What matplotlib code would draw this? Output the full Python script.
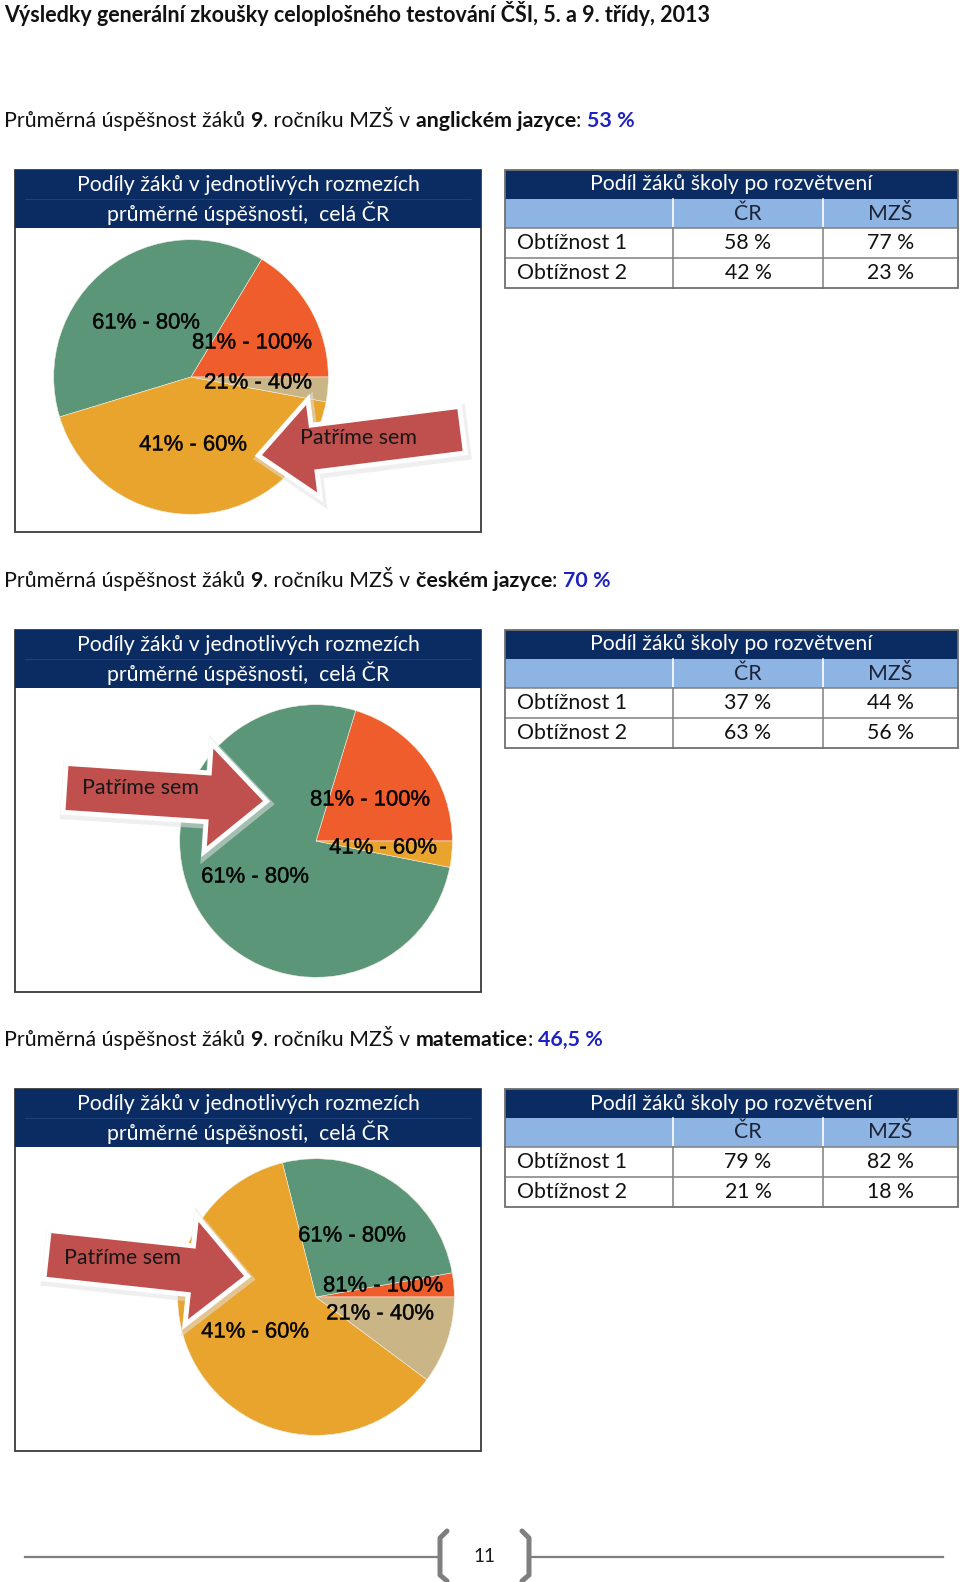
import numpy as np
import matplotlib
matplotlib.use('Agg')
import matplotlib.pyplot as plt
from matplotlib.patches import Rectangle, Polygon
import matplotlib.patheffects as pe

# ---------------- data ----------------
title = "Výsledky generální zkoušky celoplošného testování ČŠI, 5. a 9. třídy, 2013"
heading_prefix = "Průměrná úspěšnost žáků"
heading_grade = "9"
heading_middle = ". ročníku MZŠ v"
subjects = ["anglickém jazyce", "českém jazyce", "matematice"]
school_scores = ["53 %", "70 %", "46,5 %"]

pie_header = ["Podíly žáků v jednotlivých rozmezích", "průměrné úspěšnosti,  celá ČR"]
arrow_text = "Patříme sem"

# pie slices, counter-clockwise from 3 o'clock
en_bands = ["81% - 100%", "61% - 80%", "41% - 60%", "21% - 40%"]
en_shares = [16.4, 38.3, 42.4, 2.9]
cz_bands = ["81% - 100%", "61% - 80%", "41% - 60%"]
cz_shares = [20.3, 76.6, 3.1]
ma_bands = ["81% - 100%", "61% - 80%", "41% - 60%", "21% - 40%"]
ma_shares = [2.8, 26.1, 60.9, 10.2]

table_title = "Podíl žáků školy po rozvětvení"
table_columns = ["ČR", "MZŠ"]
table_rows = ["Obtížnost 1", "Obtížnost 2"]
en_cr = ["58 %", "42 %"]
en_mzs = ["77 %", "23 %"]
cz_cr = ["37 %", "63 %"]
cz_mzs = ["44 %", "56 %"]
ma_cr = ["79 %", "21 %"]
ma_mzs = ["82 %", "18 %"]
page_number = "11"

# ---------------- styles ----------------
W, H = 960, 1582
NAVY = '#0b2c62'
LIGHTBLUE = '#8db4e2'
BAND_COLORS = {"81% - 100%": '#f05d2c', "61% - 80%": '#5b9679',
               "41% - 60%": '#e8a42d', "21% - 40%": '#c9b586'}
ARROW_RED = '#c0504d'
SCORE_BLUE = '#1f22c2'
FONT = 'Lato'
PIE_FONT = 'Liberation Sans'

fig = plt.figure(figsize=(W / 100, H / 100), dpi=100)
renderer = fig.canvas.get_renderer()

bg = fig.add_axes([0, 0, 1, 1], zorder=0)
bg.set_xlim(0, W)
bg.set_ylim(H, 0)
bg.axis('off')

top = fig.add_axes([0, 0, 1, 1], zorder=5)
top.set_xlim(0, W)
top.set_ylim(H, 0)
top.axis('off')
top.patch.set_alpha(0)


def text_width(s, fs, family, weight='normal'):
    t = bg.text(0, 0, s, fontsize=fs, family=family, fontweight=weight)
    w = t.get_window_extent(renderer).width
    t.remove()
    return w


def fit_fs(s, target, family, weight='normal'):
    return 20 * target / text_width(s, 20, family, weight)


def rich(ax, x, y, pieces, fs, family):
    sp = text_width("a a", fs, family) - text_width("aa", fs, family)
    cur = x
    arts = []
    for s, wt, col, gap in pieces:
        t = ax.text(cur, y, s, fontsize=fs, fontweight=wt, color=col, family=family,
                    ha='left', va='center')
        cur += t.get_window_extent(renderer).width
        if gap:
            cur += sp
        arts.append(t)
    return cur - x, arts


# title
fs_title = fit_fs(title, 708, FONT, 'bold')
bg.text(4, 14, title, fontsize=fs_title, family=FONT, fontweight='bold', color='#111111',
        ha='left', va='center')


def heading_pieces(i):
    return [(heading_prefix, 'normal', '#111111', True),
            (heading_grade, 'bold', '#111111', False),
            (heading_middle, 'normal', '#111111', True),
            (subjects[i], 'bold', '#111111', False),
            (":", 'normal', '#111111', True),
            (school_scores[i], 'bold', SCORE_BLUE, False)]


w0, arts = rich(bg, 4, 0, heading_pieces(0), 20, FONT)
for a in arts:
    a.remove()
fs_head = 20 * 629 / w0

fs_hdr = fit_fs(pie_header[0], 343, FONT)
fs_tab = fit_fs(table_title, 282, FONT)
fs_pie = fit_fs("61% - 80%", 108, PIE_FONT)
fs_arrow = fit_fs(arrow_text, 117, FONT)


def block_arrow(ax, tip, tail, head_len, head_hw, body_hw):
    tip = np.array(tip, float)
    tail = np.array(tail, float)
    d = tail - tip
    L = np.hypot(*d)
    u = d / L
    n = np.array([-u[1], u[0]])
    hb = tip + u * head_len
    pts = np.array([tip, hb + n * head_hw, hb + n * body_hw, tail + n * body_hw,
                    tail - n * body_hw, hb - n * body_hw, hb - n * head_hw])
    # soft shadow
    ax.add_patch(Polygon(pts + np.array([1.5, 2.5]), closed=True, fc='#e2e2e2', ec='#e2e2e2',
                         lw=10, alpha=0.55, joinstyle='miter', zorder=4))
    # white outline (outside only, fill drawn on top)
    ax.add_patch(Polygon(pts, closed=True, fc='white', ec='white', lw=7,
                         joinstyle='miter', zorder=4.5))
    ax.add_patch(Polygon(pts, closed=True, fc=ARROW_RED, ec='none', zorder=5))


sections = [
    dict(off=0, bands=en_bands, shares=en_shares, cr=en_cr, mzs=en_mzs,
         center=(191, 377), r=138,
         label_off={"61% - 80%": (-45, -54), "81% - 100%": (61, -34),
                    "21% - 40%": (67, 6), "41% - 60%": (2, 68)},
         arrow=dict(tip=(262, 455), tail=(460, 430), head_len=50, head_hw=44, body_hw=21),
         arrow_txt=(359, 438)),
    dict(off=460, bands=cz_bands, shares=cz_shares, cr=cz_cr, mzs=cz_mzs,
         center=(316, 841), r=137,
         label_off={"81% - 100%": (54, -41), "41% - 60%": (67, 7), "61% - 80%": (-61, 36)},
         arrow=dict(tip=(263, 801), tail=(67, 788), head_len=53, head_hw=49, body_hw=22),
         arrow_txt=(140, 788)),
    dict(off=919, bands=ma_bands, shares=ma_shares, cr=ma_cr, mzs=ma_mzs,
         center=(316, 1297), r=139,
         label_off={"61% - 80%": (36, -61), "81% - 100%": (67, -11),
                    "21% - 40%": (64, 17), "41% - 60%": (-61, 35)},
         arrow=dict(tip=(244, 1276), tail=(49, 1255), head_len=51, head_hw=49, body_hw=22),
         arrow_txt=(122, 1258)),
]

for i, sec in enumerate(sections):
    o = sec['off']
    # heading
    rich(bg, 4, 121 + o, heading_pieces(i), fs_head, FONT)

    # left box
    bg.add_patch(Rectangle((15, 170 + o), 466, 362, fc='white', ec='#3a3a3a', lw=1.3, zorder=1))
    bg.add_patch(Rectangle((15, 170 + o), 466, 58, fc=NAVY, ec='none', zorder=2))
    bg.plot([25, 471], [199 + o, 199 + o], color='#234680', lw=0.6, zorder=3)
    bg.text(248, 185 + o, pie_header[0], fontsize=fs_hdr, family=FONT, color='white',
            ha='center', va='center', zorder=4)
    bg.text(248, 213 + o, pie_header[1], fontsize=fs_hdr, family=FONT, color='white',
            ha='center', va='center', zorder=4)

    # table
    x0, x1, x2, x3 = 505, 673, 823, 958
    ys = [170 + o, 199 + o, 228 + o, 258 + o, 288 + o]
    bg.add_patch(Rectangle((x0, ys[0]), x3 - x0, ys[1] - ys[0], fc=NAVY, ec='none', zorder=2))
    bg.add_patch(Rectangle((x0, ys[1]), x3 - x0, ys[2] - ys[1], fc=LIGHTBLUE, ec='none', zorder=2))
    for xv in (x1, x2):
        bg.plot([xv, xv], [ys[1], ys[2]], color='white', lw=1.2, zorder=3)
        bg.plot([xv, xv], [ys[2], ys[4]], color='#7f7f7f', lw=1.1, zorder=3)
    for yv in (ys[2], ys[3]):
        bg.plot([x0, x3], [yv, yv], color='#7f7f7f', lw=1.1, zorder=3)
    bg.add_patch(Rectangle((x0, ys[0]), x3 - x0, ys[4] - ys[0], fc='none', ec='#6f6f6f',
                           lw=1.3, zorder=4))
    bg.text((x0 + x3) / 2, (ys[0] + ys[1]) / 2, table_title, fontsize=fs_tab, family=FONT,
            color='white', ha='center', va='center', zorder=5)
    for xc, col in zip([(x1 + x2) / 2, (x2 + x3) / 2], table_columns):
        bg.text(xc, (ys[1] + ys[2]) / 2, col, fontsize=fs_tab, family=FONT, color='#1b2236',
                ha='center', va='center', zorder=5)
    for r_i, name in enumerate(table_rows):
        yc = (ys[2 + r_i] + ys[3 + r_i]) / 2
        bg.text(x0 + 12, yc, name, fontsize=fs_tab, family=FONT, color='#111111',
                ha='left', va='center', zorder=5)
        bg.text((x1 + x2) / 2, yc, sec['cr'][r_i], fontsize=fs_tab, family=FONT,
                color='#111111', ha='center', va='center', zorder=5)
        bg.text((x2 + x3) / 2, yc, sec['mzs'][r_i], fontsize=fs_tab, family=FONT,
                color='#111111', ha='center', va='center', zorder=5)

    # pie
    cx, cy = sec['center']
    r = sec['r']
    pax = fig.add_axes([(cx - r) / W, 1 - (cy + r) / H, 2 * r / W, 2 * r / H], zorder=2)
    pax.pie(sec['shares'], colors=[BAND_COLORS[b] for b in sec['bands']], startangle=0,
            counterclock=True, radius=1.0,
            wedgeprops=dict(edgecolor='#f2eee0', linewidth=0.4))
    pax.set_xlim(-1.005, 1.005)
    pax.set_ylim(-1.005, 1.005)
    pax.axis('off')
    pax.patch.set_alpha(0)

    for band in sec['bands']:
        dx, dy = sec['label_off'][band]
        top.text(cx + dx, cy + dy, band, fontsize=fs_pie, family=PIE_FONT, color='black',
                 alpha=0.8, ha='center', va='center', zorder=3,
                 path_effects=[pe.withStroke(linewidth=0.35, foreground='black', alpha=0.8)])

    block_arrow(top, **sec['arrow'])
    tx, ty = sec['arrow_txt']
    top.text(tx, ty, arrow_text, fontsize=fs_arrow, family=FONT, color='#161616',
             ha='center', va='center', zorder=6)

# footer
GRAY = '#7f7f7f'
bg.plot([25, 438], [1557, 1557], color=GRAY, lw=1.6)
bg.plot([531, 943], [1557, 1557], color=GRAY, lw=1.6)
bg.plot([447, 440, 440, 447], [1531, 1538, 1575, 1581], color=GRAY, lw=3.6,
        solid_capstyle='round', solid_joinstyle='round')
bg.plot([522, 529, 529, 522], [1531, 1538, 1575, 1581], color=GRAY, lw=3.6,
        solid_capstyle='round', solid_joinstyle='round')
bg.text(484, 1557, page_number, fontsize=fit_fs(page_number, 22, FONT), family=FONT,
        color='#1a1a1a', ha='center', va='center')

fig.savefig('out.png', dpi=100)
